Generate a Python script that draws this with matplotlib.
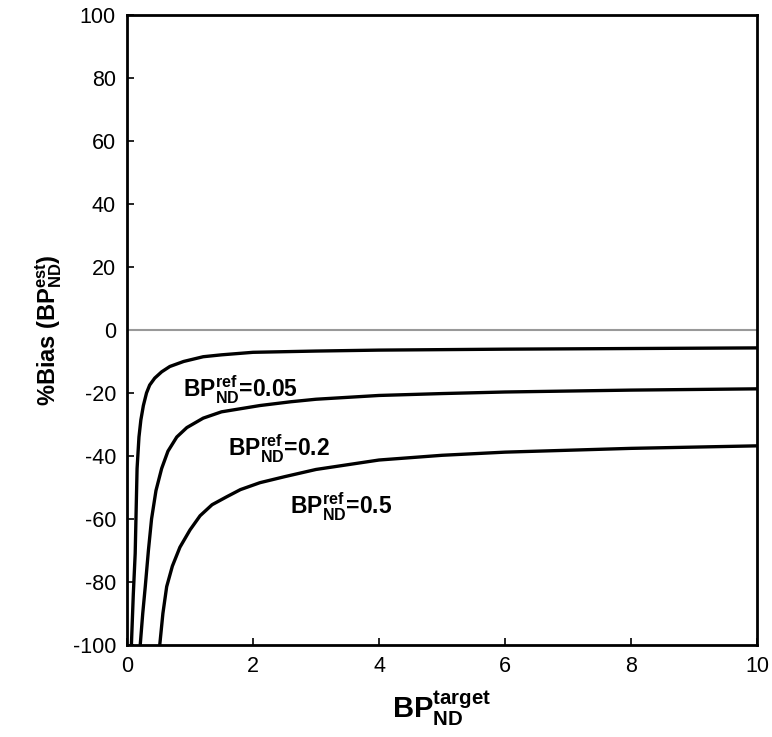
import numpy as np
import matplotlib
matplotlib.use("Agg")
import matplotlib.pyplot as plt

plt.rcParams['font.family'] = ['Liberation Sans', 'DejaVu Sans']
plt.rcParams['mathtext.default'] = 'regular'
plt.rcParams['axes.unicode_minus'] = False

# curves: BP_target vs %bias
x_005 = [0.07, 0.10, 0.13, 0.16, 0.19, 0.22, 0.26, 0.31, 0.36, 0.44, 0.55, 0.68, 0.9, 1.21, 1.5, 2.0,
         3.0, 4.0, 6.0, 8.0, 10.0]
y_005 = [-100, -84, -71, -44, -34, -28.6, -24, -20, -17.5, -15.3, -13.3, -11.6, -10, -8.5, -7.9, -7.1,
         -6.7, -6.4, -6.1, -5.9, -5.7]
x_02 = [0.21, 0.25, 0.29, 0.34, 0.39, 0.46, 0.55, 0.65, 0.79, 0.95, 1.21, 1.5, 2.11, 2.6, 3.0, 4.0,
        5.0, 6.0, 8.0, 10.0]
y_02 = [-100, -90, -81.5, -70, -60, -51, -44, -38.5, -34, -31, -28, -26, -24, -22.8, -22, -20.8,
        -20.2, -19.7, -19.1, -18.7]
x_05 = [0.52, 0.57, 0.63, 0.72, 0.84, 1.0, 1.16, 1.35, 1.58, 1.8, 2.11, 2.5, 3.0, 4.0, 5.0, 6.0, 8.0, 10.0]
y_05 = [-100, -90, -81.5, -75, -69, -63.5, -59, -55.5, -53, -50.7, -48.5, -46.6, -44.3, -41.3, -39.8, -38.8,
        -37.6, -36.8]

labels = [r'BP$_{ND}^{ref}$=0.05', r'BP$_{ND}^{ref}$=0.2', r'BP$_{ND}^{ref}$=0.5']
label_x = [0.89, 1.61, 2.59]
label_y = [-21.6, -40.2, -58.7]

fig = plt.figure(figsize=(7.72, 7.37), dpi=100)
ax = fig.add_axes([0.1645, 0.125, 0.8161, 0.8546])

ax.axhline(0, color='#999999', lw=1.5)
for xs, ys in [(x_005, y_005), (x_02, y_02), (x_05, y_05)]:
    ax.plot(xs, ys, color='black', lw=2.4, solid_joinstyle='round')

for t, lx, ly in zip(labels, label_x, label_y):
    ax.text(lx, ly, t, fontsize=16.5, fontweight='bold', va='baseline', ha='left')

ax.set_xlim(0, 10)
ax.set_ylim(-100, 100)
ax.set_xticks(np.arange(0, 11, 2))
ax.set_yticks(np.arange(-100, 101, 20))
ax.tick_params(direction='in', labelsize=15.5, length=5, width=1.2, pad=8)
for s in ax.spines.values():
    s.set_linewidth(2)

ax.set_xlabel(r'BP$_{ND}^{target}$', fontsize=21, fontweight='bold', labelpad=8)
ax.set_ylabel(r'%Bias (BP$_{ND}^{est}$)', fontsize=17, fontweight='bold', labelpad=6)

fig.savefig('out.png', dpi=100)
